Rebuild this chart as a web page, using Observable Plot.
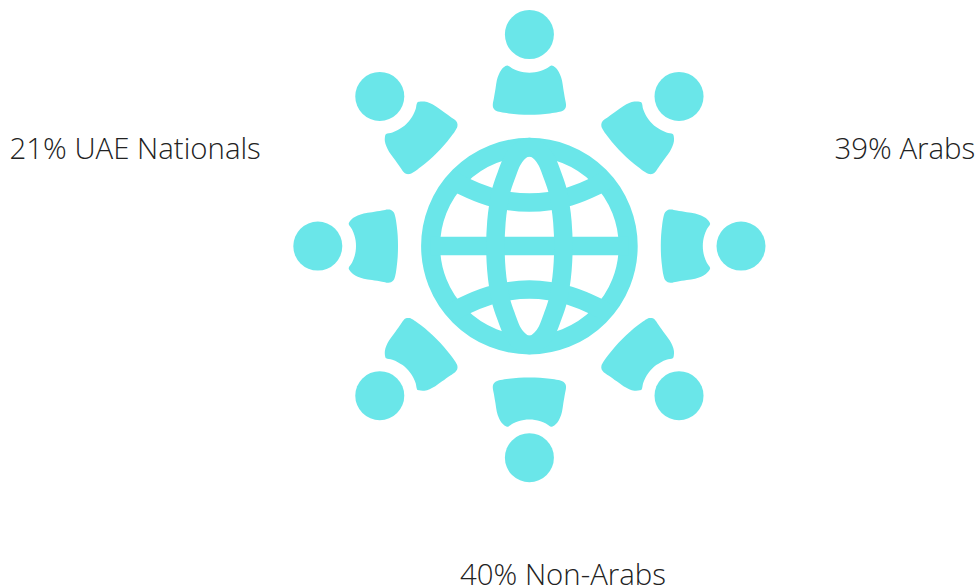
<!DOCTYPE html>
<html><head><meta charset="utf-8">
<script src="https://cdn.jsdelivr.net/npm/d3@7"></script>
<script src="https://cdn.jsdelivr.net/npm/@observablehq/plot@0.6"></script>
<style>html,body{margin:0;padding:0;background:#fff}svg{display:block}</style>
</head><body><div id="chart"></div>
<script>
const color = "#6ae6e9";
const labels = ["21% UAE Nationals", "39% Arabs", "40% Non-Arabs"];
const labelX = [9, 834, 459.5];
const labelY = [149.3, 149.3, 574.6];
const center = [528.9, 245.6];
const personAngles = [0, 45, 90, 135, 180, 225, 270, 315];
const headDistance = 211.6;
// half of one body, pointing up, relative to the globe's centre; mirrored below
const bodyHalf = [
  [0,-173.4],[5.5,-173.8],[11,-175.1],[16.5,-177.3],[22,-180.7],[24,-180],[28,-176.4],[30.6,-171.7],
  [32.6,-165.7],[33.9,-157.4],[35.6,-147.4],[36.6,-141.7],[36.2,-138.4],[33.9,-135.7],[28.9,-134],
  [20.6,-132.7],[10.6,-131.7],[0,-131.4]
];
const bodyOutline = [...bodyHalf, ...bodyHalf.slice(1, -1).reverse().map(([x, y]) => [-x, y])];
const meridianHalf = [
  [0,-99],[6,-97.4],[12,-92.6],[17.4,-85],[23,-71],[28,-56.2],[31,-40.7],[33,-24],[34,0],
  [33,24],[31,40.7],[28,56.2],[23,71],[17.4,85],[12,92.6],[6,97.4],[0,99]
];
const meridian = [...meridianHalf, ...meridianHalf.slice(1, -1).reverse().map(([x, y]) => [-x, y])];
const upperLatitude = [[-80,-68],[-66,-60],[-40,-49.5],[-20,-45],[0,-43.5],[20,-45],[40,-49.5],[66,-60],[80,-68]];
const lowerLatitude = [[-80,68],[-66,60],[-40,49.5],[-20,45],[0,43.5],[20,45],[40,49.5],[66,60],[80,68]];
const equator = [[-99,0],[99,0]];
const ringRadius = 98.8;

const rotate = ([x, y], deg) => {
  const a = deg * Math.PI / 180;
  return [center[0] + x * Math.cos(a) - y * Math.sin(a), center[1] + x * Math.sin(a) + y * Math.cos(a)];
};
const bodies = personAngles.flatMap(a => bodyOutline.map(p => { const [x, y] = rotate(p, a); return {x, y, a}; }));
const heads = personAngles.map(a => { const [x, y] = rotate([0, -headDistance], a); return {x, y}; });
const at = (pts, id) => pts.map(([x, y]) => ({x: center[0] + x, y: center[1] + y, id}));
const lat = [...at(upperLatitude, "u"), ...at(lowerLatitude, "l"), ...at(equator, "e")];
const mer = at(meridian, "m");
const texts = labels.map((t, i) => ({t, x: labelX[i], y: labelY[i]}));

document.getElementById("chart").append(Plot.plot({
  width: 976, height: 587, margin: 0,
  x: {domain: [0, 976], range: [0, 976], axis: null},
  y: {domain: [0, 587], range: [0, 587], axis: null},
  style: {background: "#fff"},
  marks: [
    Plot.dot([{x: center[0], y: center[1]}], {x: "x", y: "y", r: ringRadius, stroke: color, strokeWidth: 19, fill: "none"}),
    Plot.line(lat, {x: "x", y: "y", z: "id", stroke: color, strokeWidth: 18.5, curve: "catmull-rom", strokeLinecap: "butt"}),
    Plot.line(mer, {x: "x", y: "y", z: "id", stroke: color, strokeWidth: 18.5, curve: "catmull-rom-closed"}),
    Plot.line(bodies, {x: "x", y: "y", z: "a", fill: color, stroke: "none", curve: "catmull-rom-closed"}),
    Plot.dot(heads, {x: "x", y: "y", r: 24.5, fill: color, stroke: "none"}),
    Plot.text(texts, {x: "x", y: "y", text: "t", textAnchor: "start", fontFamily: "'Open Sans'", fontWeight: 300, fontSize: 29.4, fill: "#222"})
  ]
}));
</script></body></html>
